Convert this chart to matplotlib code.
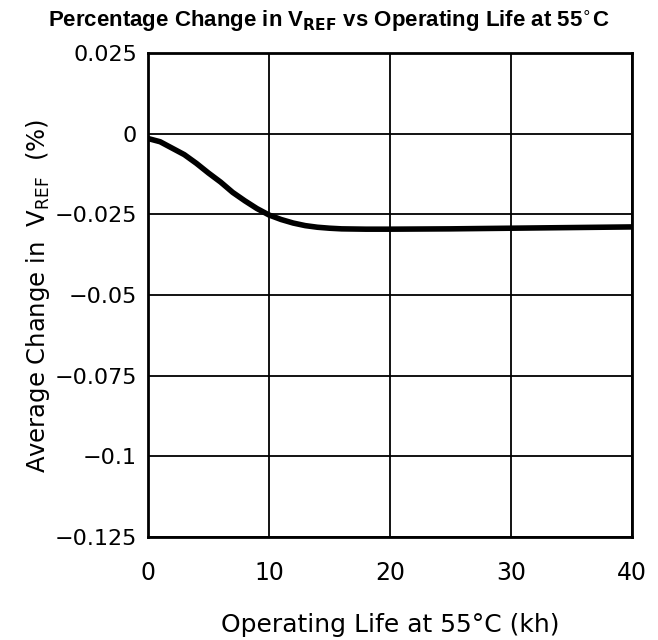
import numpy as np
import matplotlib.pyplot as plt

# operating life (kh) and average change in VREF (%)
life_kh = [0, 1, 2, 3, 4, 5, 6, 7, 8, 9, 10, 11, 12, 13, 14, 15, 16, 18, 20, 25, 30, 35, 40]
change_pct = [-0.0015, -0.0025, -0.0045, -0.0065, -0.0092, -0.0122, -0.015, -0.0182,
              -0.0208, -0.0232, -0.0252, -0.0266, -0.0277, -0.0285, -0.029, -0.0293,
              -0.0295, -0.0296, -0.0296, -0.0295, -0.0293, -0.0291, -0.0289]

x_ticks = [0, 10, 20, 30, 40]
y_ticks = [0.025, 0, -0.025, -0.05, -0.075, -0.1, -0.125]
y_tick_labels = ['0.025', '0', '\u22120.025', '\u22120.05', '\u22120.075', '\u22120.1', '\u22120.125']

fig = plt.figure(figsize=(6.58, 6.4), dpi=100)
ax = fig.add_axes([148/658, 1 - 537/640, (632-148)/658, (537-53)/640])

ax.plot(life_kh, change_pct, color='black', linewidth=4.0, solid_capstyle='butt')

ax.set_xlim(0, 40)
ax.set_ylim(-0.125, 0.025)
ax.set_xticks(x_ticks)
ax.set_xticklabels([str(t) for t in x_ticks], fontsize=17)
ax.set_yticks(y_ticks)
ax.set_yticklabels(y_tick_labels, fontsize=16)
ax.tick_params(axis='y', length=0, pad=8)
ax.tick_params(axis='x', length=0, pad=17)
ax.grid(True, color='black', linewidth=1.3)
for s in ax.spines.values():
    s.set_linewidth(2.0)

fig.text(390/658, 1 - 632/640, 'Operating Life at 55\u00b0C (kh)',
         ha='center', va='baseline', fontsize=18)
fig.text(38/658, 1 - 296/640, r'Average Change in  V$_{\mathregular{REF}}$  (%)',
         ha='center', va='center', rotation=90, fontsize=17.5)

fig.text(0.5, 1 - 27/640, r'Percentage Change in V$_{\mathbf{REF}}$ vs Operating Life at 55$^{\circ}$C',
         ha='center', va='baseline', fontsize=16, fontweight='bold', family='Liberation Sans')

fig.savefig('out.png', dpi=100)
